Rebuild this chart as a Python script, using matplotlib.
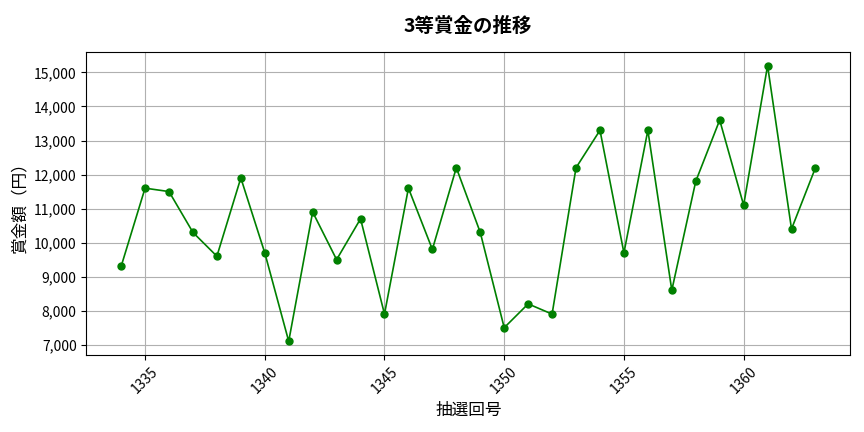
import matplotlib
matplotlib.use('Agg')
import matplotlib.pyplot as plt
from matplotlib.ticker import FuncFormatter

plt.rcParams['font.family'] = ['Noto Sans CJK JP', 'DejaVu Sans']

# draw numbers and 3rd-prize amounts
draws = list(range(1334, 1364))
prizes = [9300, 11600, 11500, 10300, 9600, 11900, 9700, 7100, 10900, 9500,
          10700, 7900, 11600, 9800, 12200, 10300, 7500, 8200, 7900, 12200,
          13300, 9700, 13300, 8600, 11800, 13600, 11100, 15200, 10400, 12200]

fig, ax = plt.subplots(figsize=(8.64, 4.32), dpi=100)
ax.plot(draws, prizes, marker='o', color='green', linewidth=1.2, markersize=5)

ax.set_title('3等賞金の推移', fontsize=14, fontweight='bold', pad=14)
ax.set_xlabel('抽選回号', fontsize=12)
ax.set_ylabel('賞金額（円）', fontsize=12)
ax.yaxis.set_major_formatter(FuncFormatter(lambda v, p: f'{int(v):,}'))
ax.tick_params(axis='both', labelsize=10)
plt.setp(ax.get_xticklabels(), rotation=45)
ax.grid(True, color='#b0b0b0', linewidth=0.8)

fig.subplots_adjust(left=0.1, right=0.984, top=0.88, bottom=0.178)
fig.savefig('out.png')
